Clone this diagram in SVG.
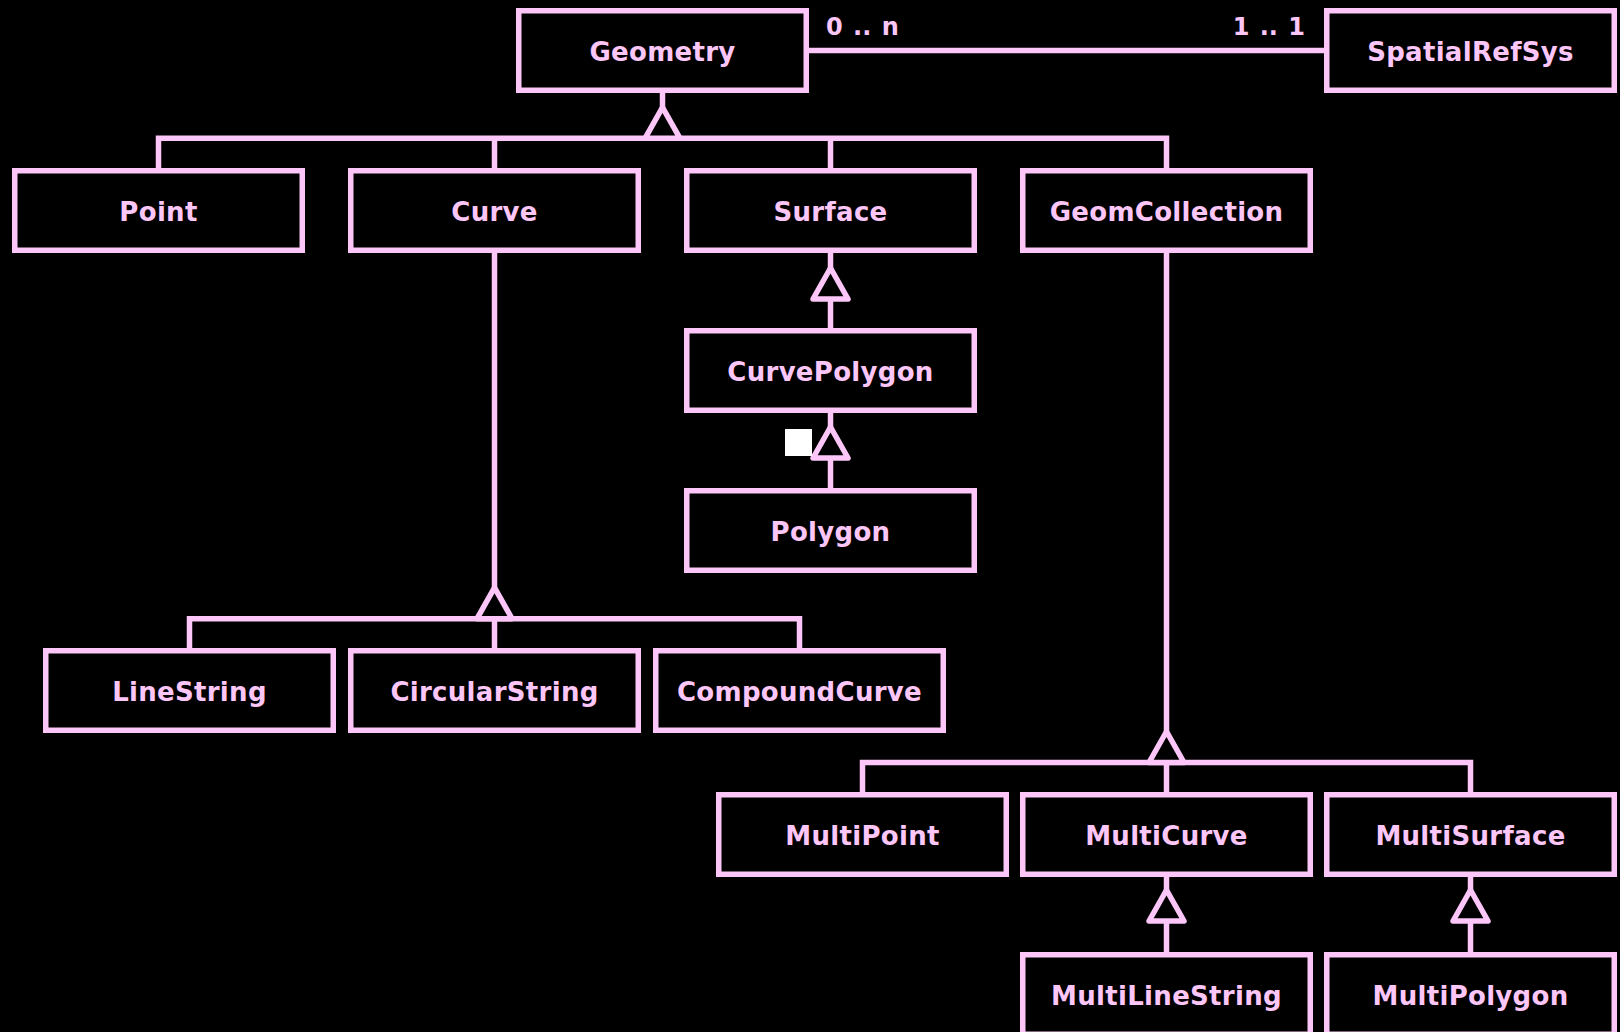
<svg xmlns="http://www.w3.org/2000/svg" width="1620" height="1032" viewBox="0 0 1620 1032">
  <style>
    .box rect { fill: #000; stroke: #FCC6F8; stroke-width: 5.5; }
    .box text { fill: #FCC6F8; font-family: "DejaVu Sans", Verdana, sans-serif; font-weight: bold; font-size: 26px; letter-spacing: 0.3px; text-anchor: middle; }
    .wire { fill: none; stroke: #FCC6F8; stroke-width: 5.5; stroke-linejoin: miter; }
    .gen { fill: #000; stroke: #FCC6F8; stroke-width: 5.5; stroke-linejoin: round; }
    .mult { fill: #FCC6F8; font-family: "DejaVu Sans", Verdana, sans-serif; font-weight: bold; font-size: 24px; word-spacing: 2px; }
  </style>
  <defs>
    <!-- hollow generalization triangle, base centred on the origin -->
    <path id="tri" class="gen" d="M0,-31 L17.5,0 L-17.5,0 Z"/>
  </defs>
  <rect width="1620" height="1032" fill="#000"/>

  <g id="connectors">
    <!-- association Geometry - SpatialRefSys -->
    <line class="wire" x1="808" y1="50.5" x2="1325" y2="50.5"/>
    <text class="mult" x="826" y="35">0 .. n</text>
    <text class="mult" x="1305" y="35" text-anchor="end">1 .. 1</text>

    <!-- Geometry subtypes -->
    <line class="wire" x1="662.5" y1="92" x2="662.5" y2="138.3"/>
    <path class="wire" d="M158.5,169 V138.3 H1166.5 V169"/>
    <line class="wire" x1="494.5" y1="138.3" x2="494.5" y2="169"/>
    <line class="wire" x1="830.5" y1="138.3" x2="830.5" y2="169"/>
    <use href="#tri" x="662.5" y="138.3"/>

    <!-- Surface / CurvePolygon / Polygon -->
    <line class="wire" x1="830.5" y1="252" x2="830.5" y2="329"/>
    <use href="#tri" x="830.5" y="299"/>
    <line class="wire" x1="830.5" y1="412" x2="830.5" y2="489"/>
    <use href="#tri" x="830.5" y="458"/>
    <rect x="785" y="429" width="27" height="27" fill="#fff"/>

    <!-- Curve subtypes -->
    <line class="wire" x1="494.5" y1="252" x2="494.5" y2="649"/>
    <path class="wire" d="M189.5,649 V618.7 H799.5 V649"/>
    <use href="#tri" x="494.5" y="618.7"/>

    <!-- GeomCollection subtypes -->
    <line class="wire" x1="1166.5" y1="252" x2="1166.5" y2="793"/>
    <path class="wire" d="M862.5,793 V762.5 H1470.5 V793"/>
    <use href="#tri" x="1166.5" y="762.5"/>

    <!-- MultiCurve / MultiSurface subtypes -->
    <line class="wire" x1="1166.5" y1="876" x2="1166.5" y2="953"/>
    <use href="#tri" x="1166.5" y="921"/>
    <line class="wire" x1="1470.5" y1="876" x2="1470.5" y2="953"/>
    <use href="#tri" x="1470.5" y="921"/>
  </g>

  <g id="Geometry" class="box"><rect x="518.75" y="10.75" width="287.5" height="79.5"/><text x="662.5" y="61">Geometry</text></g>
  <g id="SpatialRefSys" class="box"><rect x="1326.75" y="10.75" width="287.5" height="79.5"/><text x="1470.5" y="61">SpatialRefSys</text></g>

  <g id="Point" class="box"><rect x="14.75" y="170.75" width="287.5" height="79.5"/><text x="158.5" y="221">Point</text></g>
  <g id="Curve" class="box"><rect x="350.75" y="170.75" width="287.5" height="79.5"/><text x="494.5" y="221">Curve</text></g>
  <g id="Surface" class="box"><rect x="686.75" y="170.75" width="287.5" height="79.5"/><text x="830.5" y="221">Surface</text></g>
  <g id="GeomCollection" class="box"><rect x="1022.75" y="170.75" width="287.5" height="79.5"/><text x="1166.5" y="221">GeomCollection</text></g>

  <g id="CurvePolygon" class="box"><rect x="686.75" y="330.75" width="287.5" height="79.5"/><text x="830.5" y="380.5">CurvePolygon</text></g>
  <g id="Polygon" class="box"><rect x="686.75" y="490.75" width="287.5" height="79.5"/><text x="830.5" y="540.5">Polygon</text></g>

  <g id="LineString" class="box"><rect x="45.75" y="650.75" width="287.5" height="79.5"/><text x="189.5" y="700.5">LineString</text></g>
  <g id="CircularString" class="box"><rect x="350.75" y="650.75" width="287.5" height="79.5"/><text x="494.5" y="700.5">CircularString</text></g>
  <g id="CompoundCurve" class="box"><rect x="655.75" y="650.75" width="287.5" height="79.5"/><text x="799.5" y="700.5">CompoundCurve</text></g>

  <g id="MultiPoint" class="box"><rect x="718.75" y="794.75" width="287.5" height="79.5"/><text x="862.5" y="844.5">MultiPoint</text></g>
  <g id="MultiCurve" class="box"><rect x="1022.75" y="794.75" width="287.5" height="79.5"/><text x="1166.5" y="844.5">MultiCurve</text></g>
  <g id="MultiSurface" class="box"><rect x="1326.75" y="794.75" width="287.5" height="79.5"/><text x="1470.5" y="844.5">MultiSurface</text></g>

  <g id="MultiLineString" class="box"><rect x="1022.75" y="954.75" width="287.5" height="79.5"/><text x="1166.5" y="1004.5">MultiLineString</text></g>
  <g id="MultiPolygon" class="box"><rect x="1326.75" y="954.75" width="287.5" height="79.5"/><text x="1470.5" y="1004.5">MultiPolygon</text></g>
</svg>
